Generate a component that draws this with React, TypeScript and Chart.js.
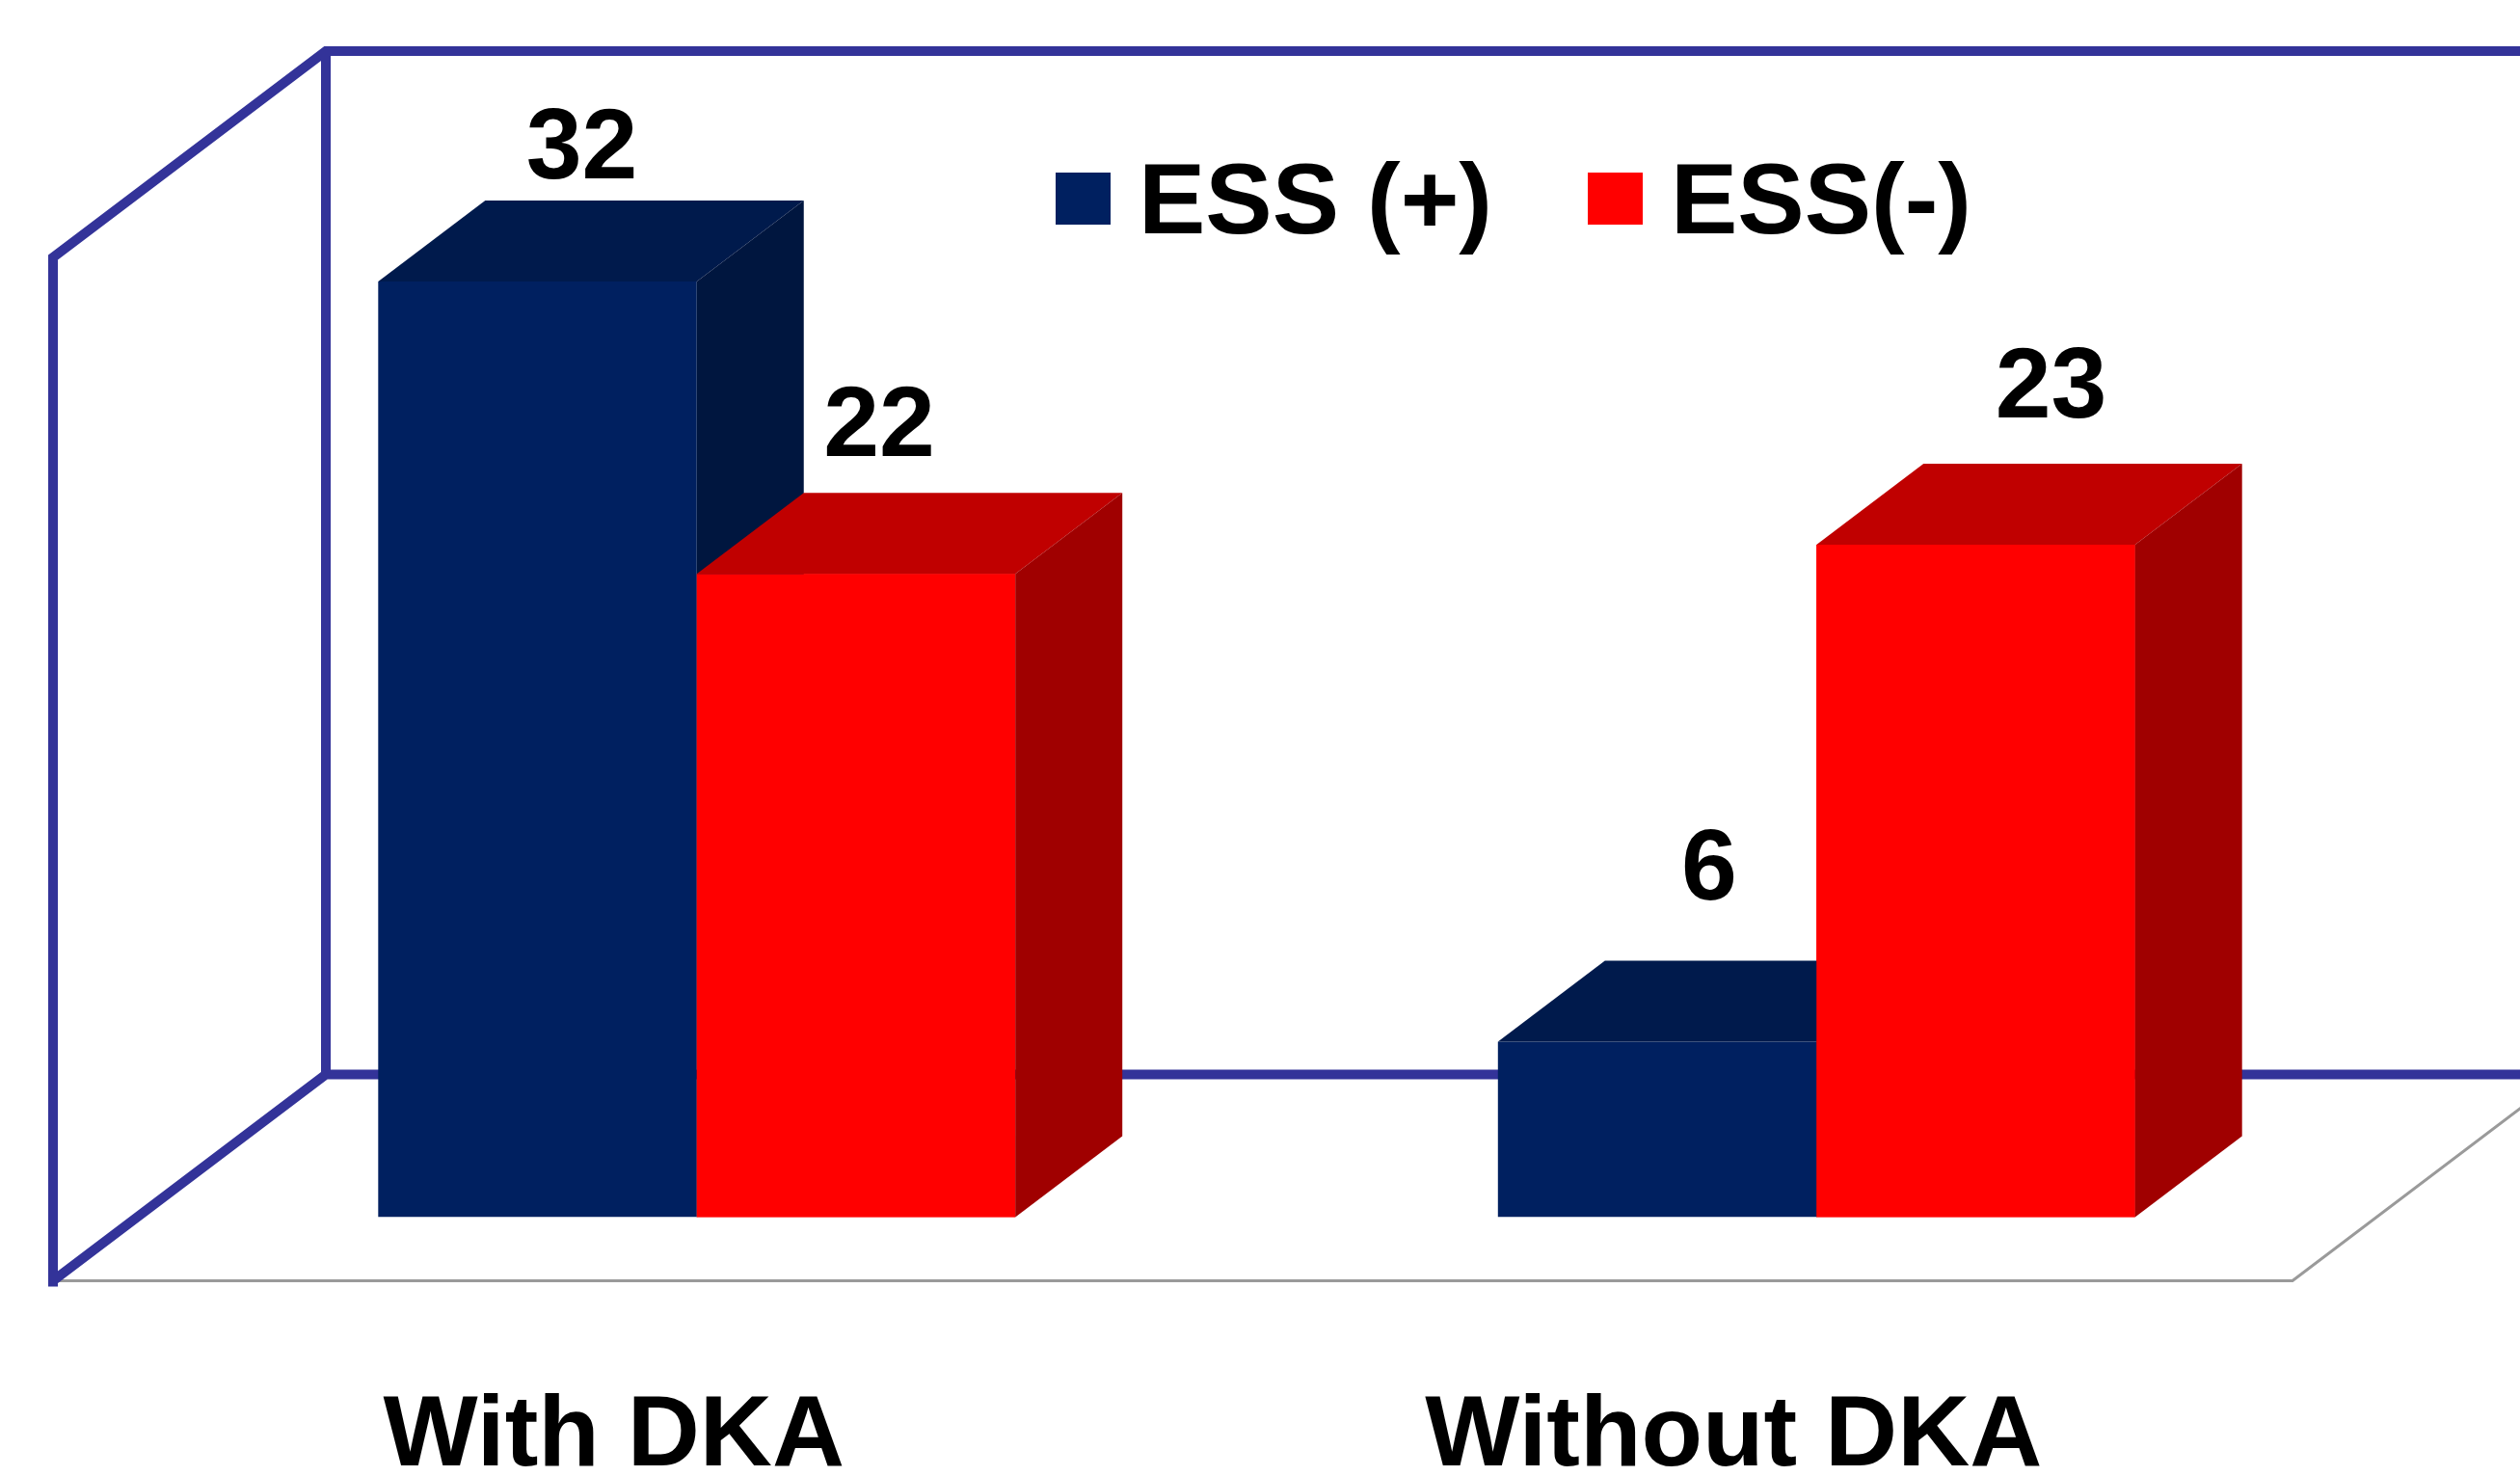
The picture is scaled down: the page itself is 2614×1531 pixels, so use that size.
import React, { useEffect, useRef } from 'react';
import { Chart, registerables } from 'chart.js';

Chart.register(...registerables);

// ---- data ----
const categories = ['With DKA', 'Without DKA'];
const seriesNames = ['ESS (+)', 'ESS(-)'];
const essPositive = [32, 6];
const essNegative = [22, 23];
const yMin = 0;
const yMax = 35;

// ---- styles ----
const FONT = '"Liberation Sans", Arial, Helvetica, sans-serif';
const FACE_COLORS = [
  { front: '#002060', top: '#001A4C', side: '#00163F' },
  { front: '#FF0000', top: '#C00000', side: '#A00000' },
];
const WALL = '#333399';
const DEPTH_X = 111;
const DEPTH_Y = 84;
const FLOOR_FRONT = { x: -87, y: 66 };
const BACK_WALL = { x: 196, y: -148 };
// value label placement (perspective nudges), per series, per category: [dx, rise]
const LABEL_NUDGE = [
  [[46, 107], [54, 147]],
  [[24, 122], [78, 132]],
];

const threeDPlugin = {
  id: 'threeD',
  beforeDatasetsDraw(chart: any) {
    const { ctx, chartArea } = chart;
    const { left, right, top, bottom } = chartArea;
    const W = chart.width;
    ctx.save();
    // grey front floor edge
    ctx.lineWidth = 3;
    ctx.strokeStyle = '#9a9a9a';
    ctx.beginPath();
    ctx.moveTo(left + FLOOR_FRONT.x, bottom + FLOOR_FRONT.y);
    ctx.lineTo(right + FLOOR_FRONT.x, bottom + FLOOR_FRONT.y);
    ctx.lineTo(right + BACK_WALL.x, bottom + BACK_WALL.y);
    ctx.stroke();
    // blue walls
    ctx.lineWidth = 10;
    ctx.strokeStyle = WALL;
    ctx.lineJoin = 'miter';
    ctx.lineCap = 'butt';
    ctx.beginPath();
    ctx.moveTo(left + FLOOR_FRONT.x, bottom + FLOOR_FRONT.y + 6);
    ctx.lineTo(left + FLOOR_FRONT.x, top + FLOOR_FRONT.y);
    ctx.lineTo(left + BACK_WALL.x, top + BACK_WALL.y);
    ctx.lineTo(W + 20, top + BACK_WALL.y);
    ctx.moveTo(left + BACK_WALL.x, top + BACK_WALL.y);
    ctx.lineTo(left + BACK_WALL.x, bottom + BACK_WALL.y);
    ctx.lineTo(W + 20, bottom + BACK_WALL.y);
    ctx.moveTo(left + FLOOR_FRONT.x, bottom + FLOOR_FRONT.y);
    ctx.lineTo(left + BACK_WALL.x, bottom + BACK_WALL.y);
    ctx.stroke();
    ctx.restore();
  },
  afterDatasetsDraw(chart: any) {
    const { ctx } = chart;
    const metas = [chart.getDatasetMeta(0), chart.getDatasetMeta(1)];
    ctx.save();
    for (let i = 0; i < categories.length; i++) {
      metas.forEach((meta: any, d: number) => {
        const el = meta.data[i];
        if (!el) return;
        if (d > 0) el.draw(ctx);
        const { x, y, base, width } = el.getProps(['x', 'y', 'base', 'width'], true);
        const l = x - width / 2;
        const r = x + width / 2;
        const c = FACE_COLORS[d];
        // top face
        ctx.fillStyle = c.top;
        ctx.beginPath();
        ctx.moveTo(l, y);
        ctx.lineTo(l + DEPTH_X, y - DEPTH_Y);
        ctx.lineTo(r + DEPTH_X, y - DEPTH_Y);
        ctx.lineTo(r, y);
        ctx.closePath();
        ctx.fill();
        // side face
        ctx.fillStyle = c.side;
        ctx.beginPath();
        ctx.moveTo(r, y);
        ctx.lineTo(r + DEPTH_X, y - DEPTH_Y);
        ctx.lineTo(r + DEPTH_X, base - DEPTH_Y);
        ctx.lineTo(r, base);
        ctx.closePath();
        ctx.fill();
      });
    }
    // value labels
    ctx.fillStyle = '#000';
    ctx.font = `bold 104px ${FONT}`;
    ctx.textAlign = 'center';
    ctx.textBaseline = 'alphabetic';
    metas.forEach((meta: any, d: number) => {
      const values = chart.data.datasets[d].data;
      meta.data.forEach((el: any, i: number) => {
        const { x, y } = el.getProps(['x', 'y'], true);
        const [nx, ny] = LABEL_NUDGE[d][i];
        ctx.fillText(String(values[i]), x + nx, y - ny);
      });
    });
    ctx.restore();
  },
  afterDraw(chart: any) {
    const { ctx } = chart;
    ctx.save();
    ctx.font = `bold 104px ${FONT}`;
    ctx.textAlign = 'left';
    ctx.textBaseline = 'alphabetic';
    let xPos = 1095;
    const boxTop = 179;
    const baseline = 242;
    chart.data.datasets.forEach((ds: any) => {
      ctx.fillStyle = ds.backgroundColor;
      ctx.fillRect(xPos, boxTop, 57, 54);
      xPos += 57 + 29;
      ctx.fillStyle = '#000';
      ctx.fillText(ds.label, xPos, baseline);
      xPos += ctx.measureText(ds.label).width + 99;
    });
    ctx.restore();
  },
};

export default function App() {
  const canvasRef = useRef<HTMLCanvasElement | null>(null);

  useEffect(() => {
    if (!canvasRef.current) return;
    const chart = new Chart(canvasRef.current, {
      type: 'bar',
      data: {
        labels: categories,
        datasets: [
          {
            label: seriesNames[0],
            data: essPositive,
            backgroundColor: FACE_COLORS[0].front,
            borderWidth: 0,
            categoryPercentage: 0.569,
            barPercentage: 1,
          },
          {
            label: seriesNames[1],
            data: essNegative,
            backgroundColor: FACE_COLORS[1].front,
            borderWidth: 0,
            categoryPercentage: 0.569,
            barPercentage: 1,
          },
        ],
      },
      options: {
        responsive: false,
        animation: false,
        layout: { padding: { left: 142, right: 149, top: 201, bottom: -189 } },
        plugins: {
          legend: { display: false },
          tooltip: { enabled: false },
          title: { display: false },
        },
        scales: {
          x: {
            grid: { display: false, drawTicks: false },
            border: { display: false },
            ticks: {
              color: '#000',
              font: { family: FONT, size: 104, weight: 'bold', lineHeight: 0.9 },
              padding: 182,
              labelOffset: -86,
              maxRotation: 0,
              autoSkip: false,
            },
          },
          y: {
            display: false,
            min: yMin,
            max: yMax,
          },
        },
      },
      plugins: [threeDPlugin],
    });
    return () => chart.destroy();
  }, []);

  return (
    <div style={{ position: 'fixed', left: 0, top: 0, width: 2614, height: 1531, background: '#fff' }}>
      <canvas ref={canvasRef} width={2614} height={1531} style={{ display: 'block' }} />
    </div>
  );
}
